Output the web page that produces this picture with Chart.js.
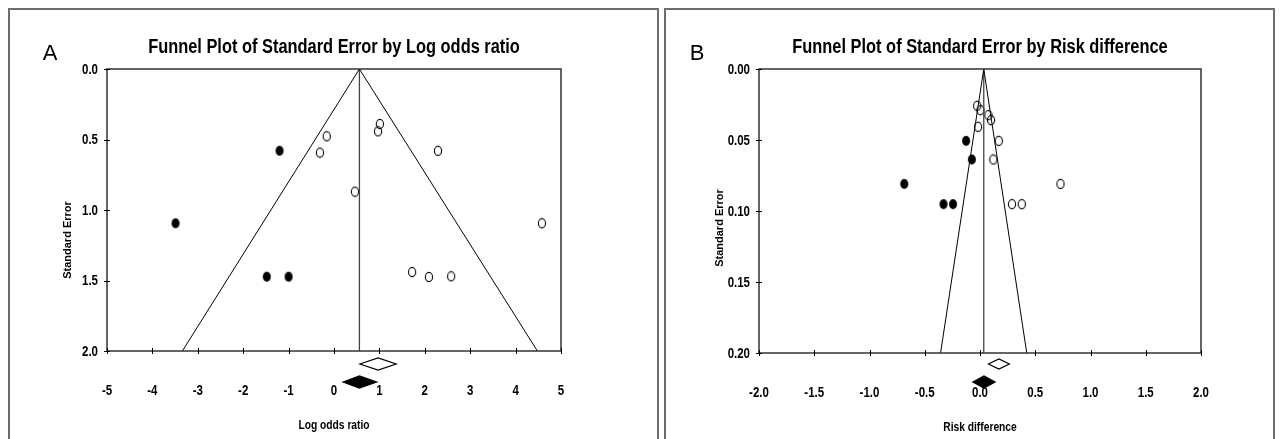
<!DOCTYPE html>
<html>
<head>
<meta charset="utf-8">
<script src="https://cdn.jsdelivr.net/npm/chart.js@4.4.1/dist/chart.umd.min.js"></script>
<style>
  html, body { margin: 0; padding: 0; background: #fff; }
  body { width: 1282px; height: 439px; position: relative; overflow: hidden; }
  .frame { position: absolute; top: 8px; height: 440px; border: 2px solid #6e6e6e; border-bottom: none; box-sizing: border-box; }
  .box { position: absolute; top: 0; height: 439px; }
</style>
</head>
<body>
<div class="frame" style="left:8px;width:651px"></div>
<div class="frame" style="left:664px;width:611px"></div>
<div class="box" style="left:0;width:660px"><canvas id="chartA"></canvas></div>
<div class="box" style="left:662px;width:620px"><canvas id="chartB"></canvas></div>
<script>
// Panel A: log odds ratio vs standard error
const observedA = [
  {x: -0.16, y: 0.477}, {x: -0.31, y: 0.593}, {x: 0.46, y: 0.870}, {x: 1.01, y: 0.390},
  {x: 0.97, y: 0.442}, {x: 2.29, y: 0.580}, {x: 4.58, y: 1.094}, {x: 1.72, y: 1.440},
  {x: 2.09, y: 1.475}, {x: 2.58, y: 1.470}
];
const imputedA = [
  {x: -1.20, y: 0.580}, {x: -3.49, y: 1.094}, {x: -1.48, y: 1.473}, {x: -1.00, y: 1.473}
];
const funnelA = [{x: -3.34, y: 2}, {x: 0.56, y: 0}, {x: 4.48, y: 2}];
const centerA = [{x: 0.56, y: 0}, {x: 0.56, y: 2}];
const openDiamondA = [0.57, 0.97, 1.37];
const filledDiamondA = [0.20, 0.56, 0.94];
const xTicksA = [-5, -4, -3, -2, -1, 0, 1, 2, 3, 4, 5];
const yTicksA = [0, 0.5, 1.0, 1.5, 2.0];

// Panel B: risk difference vs standard error
const observedB = [
  {x: -0.026, y: 0.0259}, {x: 0.004, y: 0.0290}, {x: 0.076, y: 0.0325}, {x: 0.100, y: 0.0360},
  {x: -0.017, y: 0.0407}, {x: 0.170, y: 0.0506}, {x: 0.121, y: 0.0637}, {x: 0.290, y: 0.0952},
  {x: 0.378, y: 0.0952}, {x: 0.728, y: 0.0809}
];
const imputedB = [
  {x: -0.126, y: 0.0506}, {x: -0.074, y: 0.0637}, {x: -0.685, y: 0.0809},
  {x: -0.330, y: 0.0952}, {x: -0.244, y: 0.0952}
];
const funnelB = [{x: -0.357, y: 0.2}, {x: 0.034, y: 0}, {x: 0.423, y: 0.2}];
const centerB = [{x: 0.034, y: 0}, {x: 0.034, y: 0.2}];
const openDiamondB = [0.076, 0.171, 0.266];
const filledDiamondB = [-0.065, 0.036, 0.137];
const xTicksB = [-2.0, -1.5, -1.0, -0.5, 0.0, 0.5, 1.0, 1.5, 2.0];
const yTicksB = [0, 0.05, 0.10, 0.15, 0.20];

const SANS = "'Liberation Sans', Arial, sans-serif";

// little ellipse markers (the figure is squeezed sideways)
function marker(filled) {
  const c = document.createElement('canvas');
  c.width = 10; c.height = 12;
  const g = c.getContext('2d');
  g.beginPath();
  g.ellipse(5, 6, filled ? 4 : 3.6, filled ? 5 : 4.6, 0, 0, Math.PI * 2);
  if (filled) { g.fillStyle = '#000'; g.fill(); }
  else { g.strokeStyle = '#000'; g.lineWidth = 1.1; g.stroke(); }
  return c;
}
const openDot = marker(false);
const fullDot = marker(true);

// bold text squeezed to look like Arial Narrow (no narrow face installed)
function narrowText(ctx, text, x, y, size, align) {
  ctx.save();
  ctx.font = `bold ${size}px ${SANS}`;
  ctx.translate(x, y);
  ctx.scale(0.82, 1);
  ctx.textAlign = align;
  ctx.textBaseline = 'middle';
  ctx.fillText(text, 0, 0);
  ctx.restore();
}

// frame, crossing ticks, labels, summary diamonds and the panel letter
const funnelDecor = {
  id: 'funnelDecor',
  afterDraw(chart, args, opts) {
    const {ctx, chartArea: a, scales: {x, y}} = chart;
    ctx.save();
    ctx.strokeStyle = '#333';
    ctx.lineWidth = 1.5;
    ctx.strokeRect(a.left, a.top, a.right - a.left, a.bottom - a.top);
    ctx.strokeStyle = '#000';
    ctx.lineWidth = 1;
    ctx.beginPath();
    x.ticks.forEach(t => {
      const px = Math.round(x.getPixelForValue(t.value)) + 0.5;
      ctx.moveTo(px, a.bottom - 3); ctx.lineTo(px, a.bottom + 3);
    });
    y.ticks.forEach(t => {
      const py = Math.round(y.getPixelForValue(t.value)) + 0.5;
      ctx.moveTo(a.left - 3, py); ctx.lineTo(a.left + 3, py);
    });
    ctx.stroke();

    ctx.fillStyle = '#000';
    x.ticks.forEach(t => {
      narrowText(ctx, t.value.toFixed(opts.xDigits), x.getPixelForValue(t.value), a.bottom + 40, 14, 'center');
    });
    y.ticks.forEach(t => {
      narrowText(ctx, t.value.toFixed(opts.yDigits), a.left - 9, y.getPixelForValue(t.value) + 1, 14, 'right');
    });
    narrowText(ctx, opts.title, (a.left + a.right) / 2, 47, 20, 'center');
    narrowText(ctx, opts.xTitle, (a.left + a.right) / 2, a.bottom + 75, 12.5, 'center');

    ctx.save();
    ctx.translate(a.left - 39, opts.yTitleY);
    ctx.rotate(-Math.PI / 2);
    ctx.font = `bold 11px ${SANS}`;
    ctx.textAlign = 'center';
    ctx.textBaseline = 'middle';
    ctx.fillText('Standard Error', 0, 0);
    ctx.restore();

    ctx.lineWidth = 1.2;
    opts.diamonds.forEach(d => {
      const lo = x.getPixelForValue(d.values[0]);
      const mid = x.getPixelForValue(d.values[1]);
      const hi = x.getPixelForValue(d.values[2]);
      const cy = a.bottom + d.offset;
      ctx.beginPath();
      ctx.moveTo(lo, cy); ctx.lineTo(mid, cy - d.half);
      ctx.lineTo(hi, cy); ctx.lineTo(mid, cy + d.half);
      ctx.closePath();
      ctx.fillStyle = d.filled ? '#000' : '#fff';
      ctx.fill();
      ctx.stroke();
    });

    ctx.fillStyle = '#000';
    ctx.font = `22px ${SANS}`;
    ctx.textAlign = 'center';
    ctx.textBaseline = 'middle';
    ctx.fillText(opts.letter, opts.letterX, 54);
    ctx.restore();
  }
};

function funnelChart(id, o) {
  return new Chart(document.getElementById(id), {
    type: 'scatter',
    data: {
      datasets: [
        {data: o.funnel, showLine: true, borderColor: '#000', borderWidth: 1, pointRadius: 0, clip: false},
        {data: o.center, showLine: true, borderColor: '#444', borderWidth: 1.3, pointRadius: 0},
        {data: o.imputed, pointStyle: fullDot, pointRadius: 5},
        {data: o.observed, pointStyle: openDot, pointRadius: 5}
      ]
    },
    options: {
      responsive: true,
      maintainAspectRatio: false,
      animation: false,
      events: [],
      layout: {padding: {left: 0, right: o.padRight, top: 69, bottom: 0}},
      plugins: {
        legend: {display: false},
        tooltip: {enabled: false},
        funnelDecor: {
          letter: o.letter, letterX: o.letterX, diamonds: o.diamonds, title: o.title,
          xTitle: o.xTitle, xDigits: o.xDigits, yDigits: o.yDigits, yTitleY: o.yTitleY
        }
      },
      scales: {
        x: {
          type: 'linear', min: o.xTicks[0], max: o.xTicks[o.xTicks.length - 1],
          afterBuildTicks: s => { s.ticks = o.xTicks.map(v => ({value: v})); },
          afterFit: s => { s.height = o.xHeight; },
          grid: {display: false, drawTicks: false},
          border: {display: false},
          ticks: {display: false}
        },
        y: {
          type: 'linear', reverse: true, min: o.yTicks[0], max: o.yTicks[o.yTicks.length - 1],
          afterBuildTicks: s => { s.ticks = o.yTicks.map(v => ({value: v})); },
          afterFit: s => { s.width = o.yWidth; },
          grid: {display: false, drawTicks: false},
          border: {display: false},
          ticks: {display: false}
        }
      }
    },
    plugins: [funnelDecor]
  });
}

funnelChart('chartA', {
  title: 'Funnel Plot of Standard Error by Log odds ratio',
  xTitle: 'Log odds ratio', letter: 'A', letterX: 50,
  observed: observedA, imputed: imputedA, funnel: funnelA, center: centerA,
  xTicks: xTicksA, yTicks: yTicksA, xDigits: 0, yDigits: 1,
  padRight: 99, yWidth: 107, xHeight: 88, yTitleY: 240,
  diamonds: [
    {values: openDiamondA, filled: false, offset: 13, half: 6},
    {values: filledDiamondA, filled: true, offset: 31, half: 6}
  ]
});

funnelChart('chartB', {
  title: 'Funnel Plot of Standard Error by Risk difference',
  xTitle: 'Risk difference', letter: 'B', letterX: 35,
  observed: observedB, imputed: imputedB, funnel: funnelB, center: centerB,
  xTicks: xTicksB, yTicks: yTicksB, xDigits: 1, yDigits: 2,
  padRight: 81, yWidth: 97, xHeight: 86, yTitleY: 228,
  diamonds: [
    {values: openDiamondB, filled: false, offset: 11, half: 5},
    {values: filledDiamondB, filled: true, offset: 29, half: 6}
  ]
});
</script>
</body>
</html>
